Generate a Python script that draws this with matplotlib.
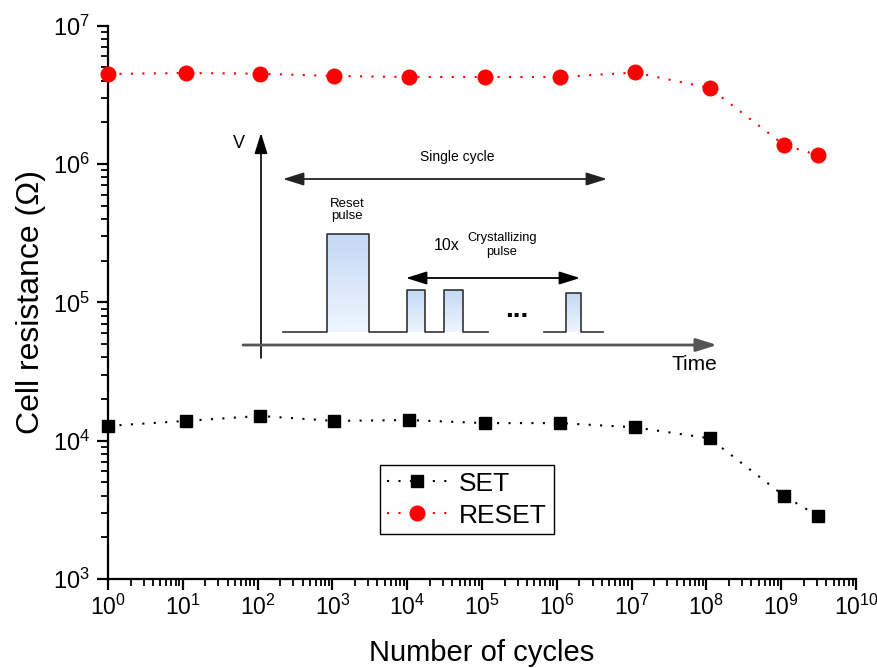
import numpy as np
import matplotlib
matplotlib.use("Agg")
import matplotlib.pyplot as plt
from matplotlib.ticker import LogLocator, NullFormatter
from matplotlib.colors import LinearSegmentedColormap

plt.rcParams['font.family'] = ['Liberation Sans', 'DejaVu Sans']
plt.rcParams['mathtext.default'] = 'regular'

# endurance data
cycles = [1, 1.1e1, 1.07e2, 1.05e3, 1.05e4, 1.1e5, 1.1e6, 1.1e7, 1.1e8, 1.1e9, 3.1e9]
r_set = [1.28e4, 1.39e4, 1.51e4, 1.39e4, 1.41e4, 1.34e4, 1.34e4, 1.25e4, 1.04e4, 3.98e3, 2.86e3]
r_reset = [4.48e6, 4.55e6, 4.5e6, 4.33e6, 4.26e6, 4.26e6, 4.26e6, 4.59e6, 3.55e6, 1.37e6, 1.16e6]

# schematic of the pulse train (inset, drawn in pixel-like units)
base_y = 332
pulse_left = [327, 407, 444, 566]
pulse_right = [369, 425, 463, 581]
pulse_top = [234, 290, 290, 293]
trains = [(283, 488, [0, 1, 2]), (544, 603, [3])]

fig = plt.figure(figsize=(8.78, 6.68), dpi=100)
ax = fig.add_axes([0.123, 0.1332, 0.852, 0.8283])

ax.plot(cycles, r_set, color='black', ls=(0, (1, 4.5)), lw=1.5,
        marker='s', ms=9, label='SET')
ax.plot(cycles, r_reset, color='red', ls=(0, (1, 4.5)), lw=1.5,
        marker='o', ms=10.5, label='RESET')

ax.set_xscale('log')
ax.set_yscale('log')
ax.set_xlim(1, 1e10)
ax.set_ylim(1e3, 1e7)
ax.xaxis.set_major_locator(LogLocator(base=10, numticks=15))
ax.xaxis.set_minor_locator(LogLocator(base=10, subs=np.arange(2, 10), numticks=15))
ax.xaxis.set_minor_formatter(NullFormatter())
ax.yaxis.set_minor_formatter(NullFormatter())

for s in ['top', 'right']:
    ax.spines[s].set_visible(False)
for s in ['left', 'bottom']:
    ax.spines[s].set_linewidth(1.6)
ax.spines['left'].set_zorder(0.5)
ax.spines['bottom'].set_zorder(0.5)

ax.tick_params(which='major', direction='out', length=8, width=1.6)
ax.tick_params(which='minor', direction='out', length=5, width=1.3)
ax.tick_params(axis='y', which='major', labelsize=17, pad=5)
ax.tick_params(axis='x', which='major', labelsize=16.5, pad=3)

ax.set_xlabel('Number of cycles', fontsize=21, labelpad=14)
ax.set_ylabel('Cell resistance (\u03a9)', fontsize=23, labelpad=5)

for p in ax.lines:
    p.set_clip_on(False)

leg = ax.legend(loc='upper left', bbox_to_anchor=(380 / 878, 1 - 465 / 668),
                bbox_transform=fig.transFigure, fontsize=19, fancybox=False,
                edgecolor='black', framealpha=1, handlelength=2.3,
                borderpad=0.25, labelspacing=0.3, handletextpad=0.45,
                borderaxespad=0)
leg.get_frame().set_linewidth(1.0)

# inset schematic
ax2 = fig.add_axes([0, 0, 1, 1])
ax2.axis('off')
ax2.patch.set_alpha(0)

cmap = LinearSegmentedColormap.from_list('pulse', ['#c4d9f5', '#eff5fe'])
grad = np.linspace(0, 1, 100).reshape(-1, 1)
for l, r, t in zip(pulse_left, pulse_right, pulse_top):
    ax2.imshow(grad, extent=(l, r, base_y, t), cmap=cmap, aspect='auto',
               origin='upper', zorder=1)

for start, end, idx in trains:
    xs = [start]
    ys = [base_y]
    for i in idx:
        xs += [pulse_left[i], pulse_left[i], pulse_right[i], pulse_right[i]]
        ys += [base_y, pulse_top[i], pulse_top[i], base_y]
    xs.append(end)
    ys.append(base_y)
    ax2.plot(xs, ys, color='#333333', lw=1.2, zorder=2)

ax2.set_xlim(0, 878)
ax2.set_ylim(668, 0)

def arrow(x0, y0, x1, y1, style, color, lw):
    ax2.annotate('', xy=(x1, y1), xytext=(x0, y0),
                 arrowprops=dict(arrowstyle=style + ',head_length=0.7,head_width=0.22',
                                 color=color, lw=lw, shrinkA=0, shrinkB=0,
                                 mutation_scale=18))

arrow(261, 358, 261, 133, '-|>', 'black', 1.2)
arrow(243, 345, 717, 345, '-|>', '#555555', 2.0)
arrow(283, 179, 607, 179, '<|-|>', '#222222', 1.3)
arrow(406, 278, 580, 278, '<|-|>', 'black', 1.3)

ax2.text(239, 143, 'V', fontsize=13, ha='center', va='center')
ax2.text(694, 365, 'Time', fontsize=15, ha='center', va='center')
ax2.text(457, 157, 'Single cycle', fontsize=10, ha='center', va='center')
ax2.text(347, 210, 'Reset\npulse', fontsize=9.5, ha='center', va='center',
         linespacing=1.1)
ax2.text(447, 246, '10x', fontsize=11.5, ha='center', va='center')
ax2.text(502, 245, 'Crystallizing\npulse', fontsize=9.3, ha='center', va='center',
         linespacing=1.2)
ax2.text(517, 310, '...', fontsize=20, fontweight='bold', ha='center', va='center')

fig.savefig('out.png', dpi=100)
